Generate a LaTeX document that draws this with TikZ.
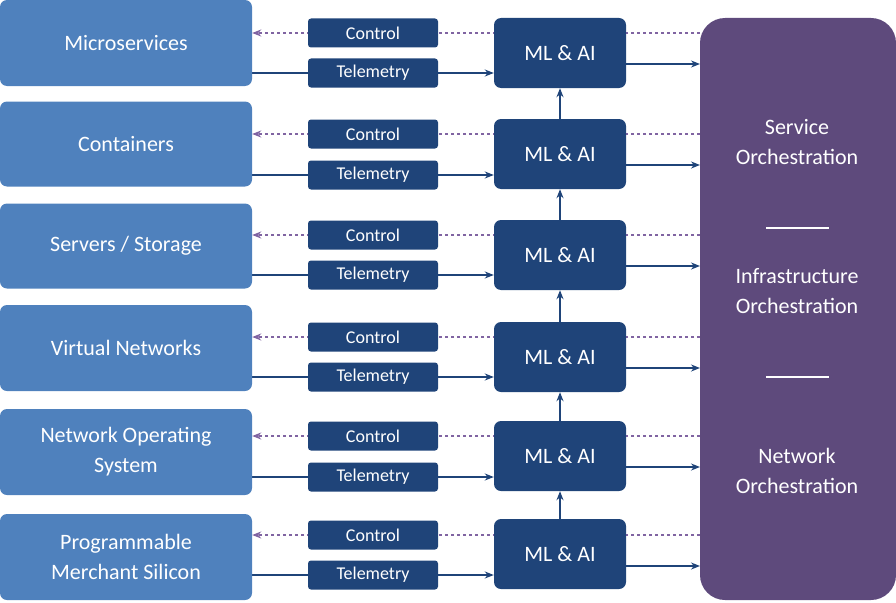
\documentclass[tikz,border=0pt]{standalone}
\usepackage{fontspec}
\setmainfont{Carlito}
\usetikzlibrary{arrows.meta}
\definecolor{lb}{HTML}{4F81BD}
\definecolor{db}{HTML}{1F4479}
\definecolor{pu}{HTML}{5E4A7C}
\definecolor{dashpu}{HTML}{8064A2}
\pgfdeclarelayer{bg}\pgfsetlayers{bg,main}
\begin{document}
\begin{tikzpicture}[x=1pt,y=-1pt,
 left/.style={fill=lb,rounded corners=7pt,minimum width=252pt,text=white,font=\fontsize{22}{30}\selectfont,align=center,inner sep=0},
 small/.style={fill=db,rounded corners=3pt,minimum width=130pt,minimum height=29pt,text=white,font=\fontsize{18}{20}\selectfont,inner sep=0},
 ml/.style={fill=db,rounded corners=7pt,minimum width=132pt,minimum height=70pt,text=white,font=\fontsize{22}{24}\selectfont,inner sep=0},
 ctl/.style={dashed,draw=dashpu,line width=1.3pt,-{Stealth[length=9pt,width=7pt]}},
 tel/.style={draw=db,line width=1.5pt,-{Stealth[length=9pt,width=7pt]}}]
\useasboundingbox (0,0) rectangle (896,602);
\node[fill=pu,rounded corners=25pt,minimum width=196pt,minimum height=582pt,inner sep=0] (orch) at (798,309) {};
\node[text=white,font=\fontsize{22}{30}\selectfont,align=center] (t1) at (797,142) {Service\\Orchestration};
\node[text=white,font=\fontsize{22}{30}\selectfont,align=center] (t2) at (797,291) {Infrastructure\\Orchestration};
\node[text=white,font=\fontsize{22}{30}\selectfont,align=center] (t3) at (797,471) {Network\\Orchestration};
\draw[white,line width=1.3pt] (766,228) -- (829,228);
\draw[white,line width=1.3pt] (766,377) -- (829,377);
\foreach \i/\lc/\lh/\cy/\ty/\my/\oy/\txt in {
 1/43/86/33/73/53/64/{Microservices},
 2/144/85/134/175/154/165/{Containers},
 3/246/85/235/275/255/266/{Servers / Storage},
 4/348/86/337/377/357/368/{Virtual Networks},
 5/452/86/436/477/456/467/{Network Operating\\System},
 6/557/86/535/575/554/566/{Programmable\\Merchant Silicon}}{
 \node[left,minimum height=\lh pt] (L\i) at (126,\lc) {\txt};
 \node[small] (C\i) at (373,\cy) {Control};
 \node[small] (T\i) at (373,\ty) {Telemetry};
 \node[ml] (M\i) at (560,\my) {ML \& AI};
 \coordinate (oc\i) at (700,\cy);
 \coordinate (ot\i) at (700,\oy);
 \coordinate (lt\i) at (252,\ty);
 \begin{pgfonlayer}{bg}
 \draw[ctl] (oc\i) -- (L\i.east |- oc\i);
 \draw[tel] (lt\i) -- (M\i.west |- lt\i);
 \end{pgfonlayer}
 \draw[tel] (M\i.east |- ot\i) -- (ot\i);
}
\foreach \a/\b in {2/1,3/2,4/3,5/4,6/5}
 \draw[tel] (M\a.north) -- (M\b.south);
\end{tikzpicture}
\end{document}
